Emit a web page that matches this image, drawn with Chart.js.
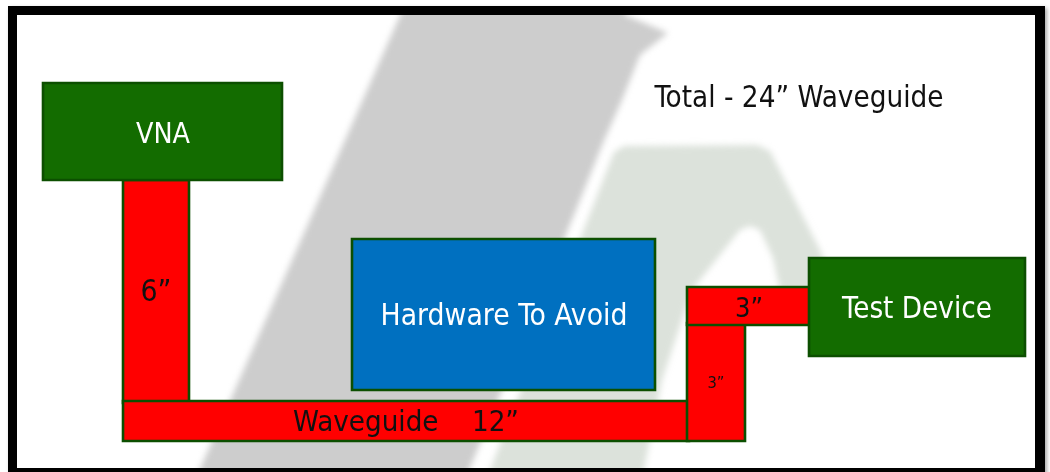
<!DOCTYPE html>
<html>
<head>
<meta charset="utf-8">
<script src="https://cdn.jsdelivr.net/npm/chart.js@4"></script>
<style>
  html, body { margin: 0; padding: 0; background: #fff; overflow: hidden; }
  body { width: 1050px; height: 472px; position: relative; }
  #frame {
    position: absolute; left: 8px; top: 6px;
    width: 1018px; height: 453px;
    border-style: solid; border-color: #000;
    border-width: 9px 10px 9px 9px;
    box-shadow: 2px 2px 4px rgba(0,0,0,0.35);
    background: #fff;
  }
  #wrap { position: absolute; left: 0; top: 0; width: 1018px; height: 453px; }
</style>
</head>
<body>
<div id="frame"><div id="wrap"><canvas id="c"></canvas></div></div>
<script>
// ---- Diagram data (diagram units: x to the right, y downward) ----
const boxNames  = ['VNA', 'Hardware To Avoid', 'Test Device'];
const boxX0     = [26, 335, 792];
const boxX1     = [265, 638, 1008];
const boxY0     = [68, 224, 243];
const boxY1     = [165, 375, 341];

const pipeNames = ['6in vertical', 'Waveguide 12in', '3in vertical', '3in horizontal'];
const pipeX0    = [106, 106, 670, 670];
const pipeX1    = [172, 672, 728, 793];
const pipeY0    = [165, 386, 308, 272];
const pipeY1    = [388, 426, 426, 310];

// background watermark shapes
const grayX  = [392, 608, 608, 651, 623, 605, 586, 559, 448, 178];
const grayY  = [-20, -20, 0, 18, 40, 85, 128, 195, 465, 465];
const greenX = [469, 597, 607, 740, 753, 803, 818, 763, 756, 743, 733, 723, 675, 645, 625];
const greenY = [465, 137, 131, 130, 136, 235, 275, 275, 243, 215, 211, 215, 275, 365, 465];

const labelText = ['VNA', 'Total - 24\u201D Waveguide', '6\u201D', 'Hardware To Avoid',
                   'Waveguide    12\u201D', '3\u201D', '3\u201D', 'Test Device'];
const labelX    = [146, 782, 139, 487, 389, 732, 699, 900];
const labelY    = [128, 92, 286, 310, 416, 302, 373, 303];

// ---- styles ----
const labelStyle = [
  {w: 54,  c: '#ffffff'}, {w: 289, c: '#111111'}, {w: 31, c: '#111111'}, {w: 247, c: '#ffffff'},
  {w: 226, c: '#111111'}, {w: 28,  c: '#111111'}, {w: 17, c: '#111111'}, {w: 150, c: '#ffffff'}
];
const FONT = '"DejaVu Sans Condensed", "DejaVu Sans", sans-serif';
const boxFill = ['#136c00', '#0070c0', '#136c00'];
const edge = '#0c4f00';

function rectPoints(x0, x1, y0, y1) {
  const xm = (x0 + x1) / 2;
  return [{x: xm, y: y0}, {x: x1, y: y0}, {x: x1, y: y1}, {x: x0, y: y1}, {x: x0, y: y0}, {x: xm, y: y0}];
}
function polyPoints(xs, ys) {
  const pts = xs.map((x, i) => ({x: x, y: ys[i]}));
  pts.push({x: xs[0], y: ys[0]});
  return pts;
}

const datasets = [];
datasets.push({label: 'wm-gray', data: polyPoints(grayX, grayY), backgroundColor: '#cdcdcd',
  borderWidth: 0, fill: 'shape', order: 30, wm: true});
datasets.push({label: 'wm-green', data: polyPoints(greenX, greenY), backgroundColor: '#dce2db',
  borderWidth: 0, fill: 'shape', order: 29, wm: true});
pipeNames.forEach((n, i) => {
  datasets.push({label: n, data: rectPoints(pipeX0[i], pipeX1[i], pipeY0[i], pipeY1[i]),
    backgroundColor: '#ff0000', borderColor: edge, borderWidth: 2.6, fill: 'shape', order: 20 - i});
});
boxNames.forEach((n, i) => {
  datasets.push({label: n, data: rectPoints(boxX0[i], boxX1[i], boxY0[i], boxY1[i]),
    backgroundColor: boxFill[i], borderColor: edge, borderWidth: 2.6, fill: 'shape', order: 5 - i});
});
datasets.forEach(d => {
  d.showLine = true; d.pointRadius = 0; d.pointHoverRadius = 0; d.tension = 0;
  d.borderJoinStyle = 'miter'; d.clip = 0;
});

const blurPlugin = {
  id: 'wmblur',
  beforeDatasetsDraw(chart) {
    chart.ctx.save();
    chart.ctx.filter = 'blur(3px)';
  },
  afterDatasetDraw(chart, args) {
    if (args.index === 1) chart.ctx.restore();
  }
};

const labelPlugin = {
  id: 'labels',
  afterDatasetsDraw(chart) {
    const ctx = chart.ctx, xs = chart.scales.x, ys = chart.scales.y;
    ctx.save();
    ctx.textAlign = 'center';
    ctx.textBaseline = 'alphabetic';
    labelText.forEach((t, i) => {
      ctx.font = '100px ' + FONT;
      const w100 = ctx.measureText(t).width;
      const size = 100 * labelStyle[i].w / w100;
      ctx.font = size.toFixed(2) + 'px ' + FONT;
      ctx.fillStyle = labelStyle[i].c;
      ctx.fillText(t, xs.getPixelForValue(labelX[i]), ys.getPixelForValue(labelY[i]));
    });
    ctx.restore();
  }
};

new Chart(document.getElementById('c'), {
  type: 'scatter',
  data: {datasets: datasets},
  options: {
    responsive: true, maintainAspectRatio: false, animation: false, events: [],
    layout: {padding: 0},
    plugins: {legend: {display: false}, tooltip: {enabled: false}, filler: {propagate: false}},
    scales: {
      x: {type: 'linear', min: 0, max: 1018, display: false},
      y: {type: 'linear', min: 0, max: 453, reverse: true, display: false}
    }
  },
  plugins: [blurPlugin, labelPlugin]
});
</script>
</body>
</html>
